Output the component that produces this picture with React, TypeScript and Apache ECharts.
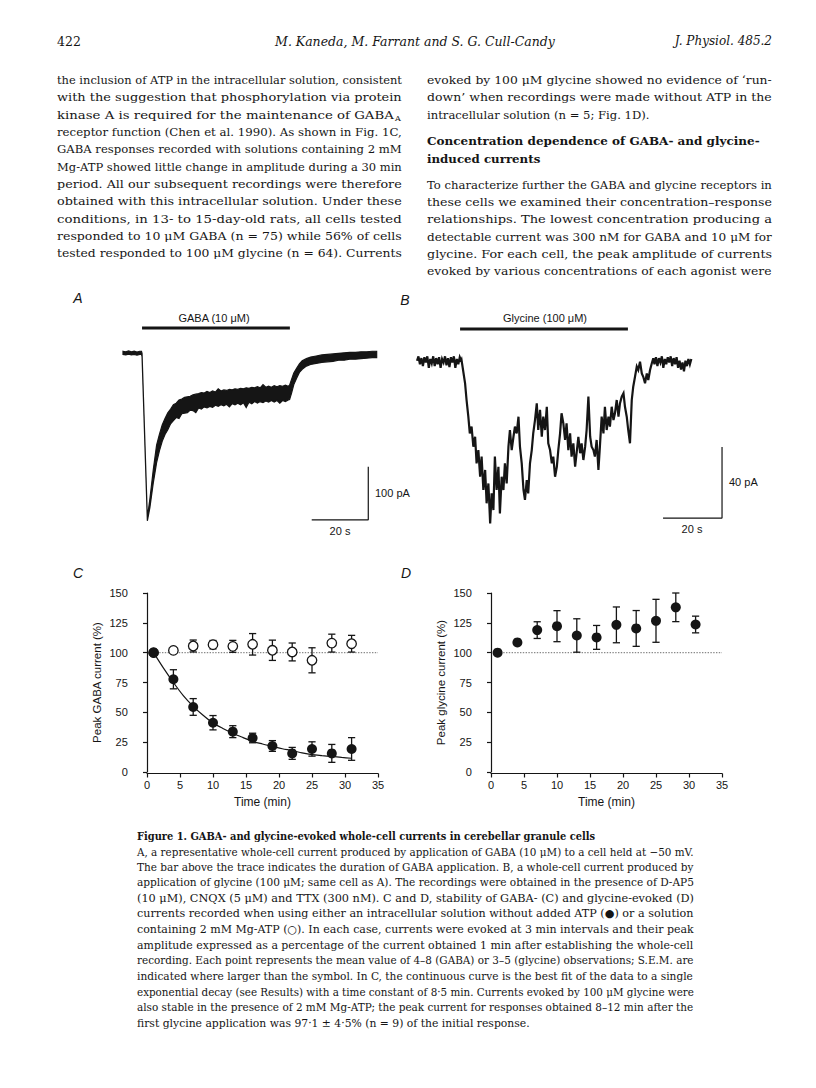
import React, { useEffect, useRef } from "react";
import * as echarts from "echarts";

// ---------------- text content ----------------
const headerPage = "422";
const headerAuthors = "M. Kaneda, M. Farrant and S. G. Cull-Candy";
const headerJournal = "J. Physiol. 485.2";

const leftColumnLines = [
  "the inclusion of ATP in the intracellular solution, consistent",
  "with the suggestion that phosphorylation via protein",
  "kinase A is required for the maintenance of GABA",
  "receptor function (Chen et al. 1990). As shown in Fig. 1C,",
  "GABA responses recorded with solutions containing 2 mM",
  "Mg-ATP showed little change in amplitude during a 30 min",
  "period. All our subsequent recordings were therefore",
  "obtained with this intracellular solution. Under these",
  "conditions, in 13- to 15-day-old rats, all cells tested",
  "responded to 10 μM GABA (n = 75) while 56% of cells",
  "tested responded to 100 μM glycine (n = 64). Currents",
];
const rightColumnLines = [
  "evoked by 100 μM glycine showed no evidence of ‘run-",
  "down’ when recordings were made without ATP in the",
  "intracellular solution (n = 5; Fig. 1D).",
];
const headingLines = ["Concentration dependence of GABA- and glycine-", "induced currents"];
const rightParagraphLines = [
  "To characterize further the GABA and glycine receptors in",
  "these cells we examined their concentration–response",
  "relationships. The lowest concentration producing a",
  "detectable current was 300 nM for GABA and 10 μM for",
  "glycine. For each cell, the peak amplitude of currents",
  "evoked by various concentrations of each agonist were",
];
const captionTitle = "Figure 1. GABA- and glycine-evoked whole-cell currents in cerebellar granule cells";
const captionLines = [
  "A, a representative whole-cell current produced by application of GABA (10 μM) to a cell held at −50 mV.",
  "The bar above the trace indicates the duration of GABA application. B, a whole-cell current produced by",
  "application of glycine (100 μM; same cell as A). The recordings were obtained in the presence of D-AP5",
  "(10 μM), CNQX (5 μM) and TTX (300 nM). C and D, stability of GABA- (C) and glycine-evoked (D)",
  "currents recorded when using either an intracellular solution without added ATP (●) or a solution",
  "containing 2 mM Mg-ATP (○). In each case, currents were evoked at 3 min intervals and their peak",
  "amplitude expressed as a percentage of the current obtained 1 min after establishing the whole-cell",
  "recording. Each point represents the mean value of 4–8 (GABA) or 3–5 (glycine) observations; S.E.M. are",
  "indicated where larger than the symbol. In C, the continuous curve is the best fit of the data to a single",
  "exponential decay (see Results) with a time constant of 8·5 min. Currents evoked by 100 μM glycine were",
  "also stable in the presence of 2 mM Mg-ATP; the peak current for responses obtained 8–12 min after the",
  "first glycine application was 97·1 ± 4·5% (n = 9) of the initial response.",
];

// ---------------- panel A: GABA trace (s, pA), lower / upper edge of the noisy record ----------------
const traceATime = [0, 1, 2, 3, 4, 5, 6, 6.6, 6.8, 8.7, 9.6, 10.8, 12, 13, 14, 15, 16, 17, 18, 19, 20, 21, 22, 23, 24, 25, 26, 27, 28, 29, 30, 31, 32, 33, 34, 35, 36, 37, 38, 39, 40, 41, 42, 43, 44, 45, 46, 47, 48, 49, 50, 51, 52, 53, 54, 55, 56, 57, 58, 59, 59.5, 60.2, 61, 62, 63, 64, 65.5, 67, 69, 71, 73, 75, 77, 79, 81, 83, 85, 87, 89, 90.6];
const traceALow = [-4, -5, -3.5, -5, -4, -5.5, -4, -4, -8, -318, -293, -247, -208, -186, -168, -155, -146, -135, -129, -123, -125, -116, -115, -114, -109, -110, -114, -105, -107, -103, -105, -102, -104, -100, -102, -99, -101, -98, -103, -97, -99, -96, -99, -95, -104, -94, -97, -93, -96, -93, -95, -92, -94, -91, -94, -91, -96, -91, -93, -90, -89, -77, -61, -49, -38, -32, -26, -23, -21, -19, -18, -17, -15, -15, -13, -13, -12, -11, -10, -10];
const traceAHigh = [2, 1, 2.5, 1, 2, 0.5, 2, 2, -2, -312, -277, -222, -175, -155, -137, -125, -114, -107, -99, -96, -90, -88, -85, -84, -83, -80, -79, -78, -76, -77, -74, -76, -73, -75, -69, -73, -71, -72, -70, -71, -69, -70, -68, -69, -67, -68, -66, -67, -65, -67, -61, -66, -64, -66, -63, -65, -63, -64, -62, -64, -62, -51, -39, -30, -22, -16, -12, -9, -7, -5, -4, -3, -2, -1, 0, 0, 1, 1, 2, 2];
const gabaApplication = [[6.8, 46], [59.6, 46]];
const scaleBarA = [[67.4, -316], [87.6, -316], [87.6, -216]];

// ---------------- panel B: glycine trace (s, pA) ----------------
const traceBTime = [0, 0.5, 1, 1.5, 2, 2.5, 3, 3.5, 4, 4.5, 5, 5.5, 6, 6.5, 7, 7.5, 8, 8.5, 9, 9.5, 10, 10.5, 11, 11.5, 12, 12.5, 13, 13.5, 14, 14.5, 15,
  15.1, 16.3, 16.8, 17.4, 17.9, 18.5, 19.1, 19.7, 20.2, 20.8, 21.4, 21.9, 22.5, 23.1, 23.6, 24.2, 24.8, 25.3, 25.9, 26.4, 27.0, 27.6, 28.1, 28.7, 29.3, 29.8, 30.4, 31.0, 31.5, 32.1, 32.7, 33.2, 33.8, 34.4, 34.9, 35.5, 36.1, 36.6, 37.2, 37.7, 38.3, 38.9, 39.4, 40.0, 40.6, 41.1, 41.7, 42.3, 42.8, 43.4, 44.0, 44.5, 45.1, 45.7, 46.2, 46.8, 47.4, 47.9, 48.5, 49.0, 49.6, 50.2, 50.7, 51.3, 51.9, 52.4, 53.0, 53.6, 54.1, 54.7, 55.3, 55.8, 56.4, 57.0, 57.5, 58.1, 58.7, 59.2, 59.8, 60.3, 60.9, 61.5, 62.0, 62.6, 63.2, 63.7, 64.3, 64.9, 65.4, 66.0, 66.6, 67.1, 67.7, 68.3, 68.8, 69.4, 70.0, 70.5, 71.1, 71.6, 72.2, 72.8, 73.3, 73.9, 74.5, 75.0, 75.6, 76.2, 76.7, 77.3, 77.9, 78.4, 79.0, 79.6, 80.1,
  80.5, 81, 81.5, 82, 82.5, 83, 83.5, 84, 84.5, 85, 85.5, 86, 86.5, 87, 87.5, 88, 88.5, 89, 89.5, 90, 90.5, 91, 91.5, 92, 92.5, 93];
const traceBCurrent = [-1, 1.5, -3, 0.5, -4, 1, -2, 1.5, -5, 0, -2.5, 1.5, -4, 0.5, -3, 1, -5, 0, -2, 1.5, -3.5, 0.5, -4.5, 1, -2, 1.5, -5, 0, -3, 1, -1,
  -0.6, -13.7, -23.1, -32.5, -41.9, -38.1, -49.4, -43.8, -58.8, -51.3, -66.3, -55, -73.8, -62.5, -81.3, -70.1, -92.6, -75.7, -85.1, -55, -73.8, -60.7, -87, -66.3, -73.8, -58.8, -70.1, -49.4, -40, -51.3, -43.8, -38.1, -41.9, -32.5, -49.4, -58.8, -73.8, -79.4, -68.2, -75.7, -58.8, -51.3, -41.9, -34.4, -25, -40, -28.7, -43.8, -32.5, -40, -26.9, -47.5, -51.3, -58.8, -55, -66.3, -60.7, -51.3, -41.9, -30.6, -36.2, -45.6, -36.2, -51.3, -41.9, -55, -47.5, -60.7, -53.1, -43.8, -53.1, -47.5, -56.9, -49.4, -40, -21.2, -43.8, -49.4, -51.3, -55, -45.6, -62.5, -49.4, -32.5, -41.9, -26.9, -40, -32.5, -38.1, -26.9, -34.4, -30.6, -23.1, -32.5, -25, -21.2, -19.3, -26.9, -32.5, -40, -47.5, -23.1, -15.6, -10, -4.3, -6.2, -1.5, -8.1, -10, -13.7, -8.1, -11.8, -6.2, -2.4, 0.4,
  -3, 1, -4, 0.5, -2, 1.5, -5, 0, -3, 1, -2, 1.5, -4, 0.5, -3, 1, -5, -1, -6, -2, -7, -1, -4, 0, -3, 0];
const glycineApplication = [[14.6, 16.9], [71.5, 16.9]];
const scaleBarB = [[83.4, -89.6], [103.4, -89.6], [103.4, -49.6]];

// ---------------- panels C and D (time in min, % of initial) ----------------
const sampleTimes = [1, 4, 7, 10, 13, 16, 19, 22, 25, 28, 31];
const gabaNoATP = [100, 77.7, 54.5, 41.3, 33.8, 28.5, 21.8, 15.6, 19.3, 15.6, 19.3];
const gabaNoATPErr = [0, 8, 7, 6, 5, 4, 4.5, 5, 6, 7.5, 9.5];
const gabaMgATP = [100, 101.9, 105.6, 106.7, 105.3, 107, 102, 100.6, 93.6, 108, 107.5];
const gabaMgATPErr = [0, 0, 5, 3.5, 5, 9, 8.5, 7.5, 10.5, 7.5, 7];
const fitTimes = [1, 2.5, 4, 5.5, 7, 8.5, 10, 11.5, 13, 14.5, 16, 17.5, 19, 20.5, 22, 23.5, 25, 26.5, 28, 29.5, 31];
const fitValues = [100, 87, 75, 64, 55, 47.5, 41, 36.5, 32.5, 29, 25.7, 23.5, 21.5, 19.5, 18, 16, 14.5, 13.7, 13, 12.2, 11.5];
const glycineNoATP = [100, 108.6, 118.9, 122.2, 114.4, 112.8, 123.3, 120.3, 126.7, 138, 123.6];
const glycineNoATPErr = [0, 0, 7, 13, 14, 10, 15, 15, 18, 12, 7];
const referenceLevel = [[1, 100], [35, 100]];
const yTicksPercent = [0, 150, 25];
const xTicksTime = [0, 35, 5];

// ---------------- helpers ----------------
const SERIF = '"DejaVu Serif", "Liberation Serif", serif';
const SANS = '"Liberation Sans", Arial, Helvetica, sans-serif';
const INK = "#151515";

let measureCtx: CanvasRenderingContext2D | null = null;
function textWidth(text: string, size: number, weight = "normal", style = "normal") {
  if (!measureCtx) measureCtx = document.createElement("canvas").getContext("2d");
  if (!measureCtx) return text.length * size * 0.5;
  measureCtx.font = `${style} ${weight} ${size}px ${SERIF}`;
  return measureCtx.measureText(text).width;
}

function prose(text: string, x: number, y: number, size: number, justifyWidth?: number, weight = "normal", fontStyle = "normal") {
  const natural = textWidth(text, size, weight, fontStyle);
  const sx = justifyWidth ? justifyWidth / natural : 1;
  return {
    type: "text",
    x,
    y,
    scaleX: sx,
    silent: true,
    style: {
      text,
      fontSize: size,
      fontFamily: SERIF,
      fontWeight: weight,
      fontStyle,
      fill: INK,
      textAlign: "left",
      textVerticalAlign: "middle",
    },
  };
}

function label(text: string, x: number, y: number, size: number, align = "left", fontStyle = "normal", family = SANS) {
  return {
    type: "text",
    x,
    y,
    silent: true,
    style: { text, fontSize: size, fontFamily: family, fontStyle, fill: INK, textAlign: align, textVerticalAlign: "middle" },
  };
}

function errorBars(params: any, api: any) {
  const x = api.value(0);
  const y = api.value(1);
  const e = api.value(2);
  if (!e) return { type: "group", children: [] };
  const top = api.coord([x, y + e]);
  const bot = api.coord([x, y - e]);
  const w = 3.6;
  const style = { stroke: INK, lineWidth: 1.3 };
  return {
    type: "group",
    children: [
      { type: "line", shape: { x1: top[0], y1: top[1], x2: bot[0], y2: bot[1] }, style },
      { type: "line", shape: { x1: top[0] - w, y1: top[1], x2: top[0] + w, y2: top[1] }, style },
      { type: "line", shape: { x1: bot[0] - w, y1: bot[1], x2: bot[0] + w, y2: bot[1] }, style },
    ],
  };
}

function buildOption() {
  const graphics: any[] = [];
  // running head
  graphics.push(prose(headerPage, 57, 41, 12.5));
  graphics.push(label(headerAuthors, 415, 41, 12.5, "center", "italic", SERIF));
  graphics.push(label(headerJournal, 772, 41, 12, "right", "italic", SERIF));

  const colW = 345;
  const leftX = 57;
  const rightX = 427;
  const lh = 17.35;
  const bodySize = 11.6;
  leftColumnLines.forEach((t, i) => {
    const y = 80 + i * lh;
    if (i === 2) {
      graphics.push(prose(t, leftX, y, bodySize, colW - 8));
      graphics.push(label("A", leftX + colW - 7, y + 4, 8, "left", "normal", SERIF));
    } else {
      graphics.push(prose(t, leftX, y, bodySize, colW));
    }
  });
  rightColumnLines.forEach((t, i) => {
    const y = 80 + i * lh;
    graphics.push(prose(t, rightX, y, bodySize, i === rightColumnLines.length - 1 ? undefined : colW));
  });
  headingLines.forEach((t, i) => {
    graphics.push(prose(t, rightX, 140.7 + i * 18, 11.8, i === 0 ? 333 : undefined, "bold"));
  });
  rightParagraphLines.forEach((t, i) => {
    graphics.push(prose(t, rightX, 184.7 + i * lh, bodySize, colW));
  });

  // figure legend
  const capX = 137;
  const capW = 557;
  const capY = 836;
  const capLh = 15.6;
  graphics.push(prose(captionTitle, capX, capY, 11, 459, "bold"));
  captionLines.forEach((t, i) => {
    const last = i === captionLines.length - 1;
    graphics.push(prose(t, capX, capY + (i + 1) * capLh, 10.8, last ? undefined : capW));
  });

  // panel letters & trace annotations
  graphics.push(label("A", 78, 298, 14, "center", "italic"));
  graphics.push(label("B", 405, 300, 14, "center", "italic"));
  graphics.push(label("C", 78, 573, 14, "center", "italic"));
  graphics.push(label("D", 406, 573, 14, "center", "italic"));
  graphics.push(label("GABA (10 μM)", 214, 318, 11, "center"));
  graphics.push(label("Glycine (100 μM)", 545, 318, 11, "center"));
  graphics.push(label("100 pA", 375, 493, 11, "left"));
  graphics.push(label("20 s", 340, 531, 11, "center"));
  graphics.push(label("40 pA", 729, 482, 11, "left"));
  graphics.push(label("20 s", 692, 529, 11, "center"));

  const hidden = { show: false };
  const pctAxisBase = {
    type: "value",
    min: yTicksPercent[0],
    max: yTicksPercent[1],
    interval: yTicksPercent[2],
    splitLine: hidden,
    axisLine: { show: true, lineStyle: { color: INK, width: 1.2 } },
    axisTick: { show: true, length: 4, lineStyle: { color: INK, width: 1.2 } },
    axisLabel: { color: INK, fontFamily: SANS, fontSize: 11, margin: 6 },
    nameLocation: "middle",
    nameTextStyle: { color: INK, fontFamily: SANS, fontSize: 11.5 },
  };
  const timeAxisBase = {
    type: "value",
    min: xTicksTime[0],
    max: xTicksTime[1],
    interval: xTicksTime[2],
    splitLine: hidden,
    axisLine: { show: true, lineStyle: { color: INK, width: 1.2 } },
    axisTick: { show: true, length: 4, lineStyle: { color: INK, width: 1.2 } },
    axisLabel: { color: INK, fontFamily: SANS, fontSize: 11, margin: 6 },
    name: "Time (min)",
    nameLocation: "middle",
    nameGap: 22,
    nameTextStyle: { color: INK, fontFamily: SANS, fontSize: 12 },
  };

  const bandData = traceATime.map((t, i) => [t, traceALow[i], traceAHigh[i]]);
  const traceBData = traceBTime.map((t, i) => [t, traceBCurrent[i]]);
  const fitData = fitTimes.map((t, i) => [t, fitValues[i]]);
  const gabaNoATPData = sampleTimes.map((t, i) => [t, gabaNoATP[i], gabaNoATPErr[i]]);
  const gabaMgATPData = sampleTimes.map((t, i) => [t, gabaMgATP[i], gabaMgATPErr[i]]);
  const glycineData = sampleTimes.map((t, i) => [t, glycineNoATP[i], glycineNoATPErr[i]]);

  const plainLine = (xi: number, data: any[], width: number, extra: any = {}) => ({
    type: "line",
    xAxisIndex: xi,
    yAxisIndex: xi,
    data,
    symbol: "none",
    silent: true,
    clip: false,
    lineStyle: { color: INK, width, ...(extra.lineStyle || {}) },
    z: extra.z || 2,
    smooth: extra.smooth || false,
  });

  return {
    animation: false,
    backgroundColor: "#ffffff",
    graphic: { elements: graphics },
    grid: [
      { left: 123, top: 299.3, width: 257.6, height: 227.9 },
      { left: 417, top: 305.75, width: 309.75, height: 230.75 },
      { left: 133.8, top: 593, width: 244.2, height: 179 },
      { left: 147, top: 593, width: 231, height: 180.5 },
      { left: 477.8, top: 593, width: 244.2, height: 179 },
      { left: 491, top: 593, width: 231, height: 180.5 },
    ],
    xAxis: [
      { gridIndex: 0, type: "value", min: 0, max: 92, show: false },
      { gridIndex: 1, type: "value", min: 0, max: 105, show: false },
      { gridIndex: 2, type: "value", min: -2, max: 35, show: false },
      { gridIndex: 3, ...timeAxisBase },
      { gridIndex: 4, type: "value", min: -2, max: 35, show: false },
      { gridIndex: 5, ...timeAxisBase },
    ],
    yAxis: [
      { gridIndex: 0, type: "value", min: -330, max: 100, show: false },
      { gridIndex: 1, type: "value", min: -100, max: 30, show: false },
      { gridIndex: 2, ...pctAxisBase, name: "Peak GABA current (%)", nameGap: 31 },
      { gridIndex: 3, type: "value", min: 0, max: 150, show: false },
      { gridIndex: 4, ...pctAxisBase, name: "Peak glycine current (%)", nameGap: 31 },
      { gridIndex: 5, type: "value", min: 0, max: 150, show: false },
    ],
    series: [
      {
        type: "custom",
        xAxisIndex: 0,
        yAxisIndex: 0,
        data: bandData,
        encode: { x: 0, y: [1, 2] },
        silent: true,
        clip: false,
        renderItem: (params: any, api: any) => {
          if (params.dataIndex !== 0) return { type: "group", children: [] };
          const upper = traceATime.map((t, i) => api.coord([t, traceAHigh[i]]));
          const lower = traceATime.map((t, i) => api.coord([t, traceALow[i]])).reverse();
          return {
            type: "polygon",
            shape: { points: upper.concat(lower) },
            style: { fill: INK, stroke: INK, lineWidth: 1.2, lineJoin: "miter" },
          };
        },
      },
      plainLine(0, gabaApplication, 3),
      plainLine(0, scaleBarA, 1.2),
      plainLine(1, traceBData, 2.2, { lineStyle: { join: "miter" } }),
      plainLine(1, glycineApplication, 3),
      plainLine(1, scaleBarB, 1.2),
      // panel C
      plainLine(2, referenceLevel, 1.4, { lineStyle: { type: "dotted", color: "#8a8a8a" }, z: 1 }),
      plainLine(2, fitData, 1.2, { smooth: 0.3 }),
      { type: "custom", xAxisIndex: 2, yAxisIndex: 2, data: gabaMgATPData, renderItem: errorBars, encode: { x: 0, y: 1 }, silent: true, clip: false, z: 3 },
      { type: "custom", xAxisIndex: 2, yAxisIndex: 2, data: gabaNoATPData, renderItem: errorBars, encode: { x: 0, y: 1 }, silent: true, clip: false, z: 3 },
      {
        type: "scatter",
        xAxisIndex: 2,
        yAxisIndex: 2,
        data: gabaMgATPData.map((d) => [d[0], d[1]]),
        symbol: "circle",
        symbolSize: 9.5,
        itemStyle: { color: "#ffffff", borderColor: INK, borderWidth: 1.3, opacity: 1 },
        silent: true,
        z: 4,
      },
      {
        type: "scatter",
        xAxisIndex: 2,
        yAxisIndex: 2,
        data: gabaNoATPData.map((d) => [d[0], d[1]]),
        symbol: "circle",
        symbolSize: 10,
        itemStyle: { color: INK, opacity: 1 },
        silent: true,
        z: 5,
      },
      // panel D
      plainLine(4, referenceLevel, 1.4, { lineStyle: { type: "dotted", color: "#8a8a8a" }, z: 1 }),
      { type: "custom", xAxisIndex: 4, yAxisIndex: 4, data: glycineData, renderItem: errorBars, encode: { x: 0, y: 1 }, silent: true, clip: false, z: 3 },
      {
        type: "scatter",
        xAxisIndex: 4,
        yAxisIndex: 4,
        data: glycineData.map((d) => [d[0], d[1]]),
        symbol: "circle",
        symbolSize: 10,
        itemStyle: { color: INK, opacity: 1 },
        silent: true,
        z: 5,
      },
    ],
  };
}

export default function App() {
  const ref = useRef<HTMLDivElement>(null);
  useEffect(() => {
    if (!ref.current) return;
    const chart = echarts.init(ref.current, null, { renderer: "svg" });
    chart.setOption(buildOption() as any);
    return () => chart.dispose();
  }, []);
  return (
    <div
      ref={ref}
      style={{ position: "absolute", left: 0, top: 0, width: 816, height: 1088, background: "#ffffff" }}
    />
  );
}
